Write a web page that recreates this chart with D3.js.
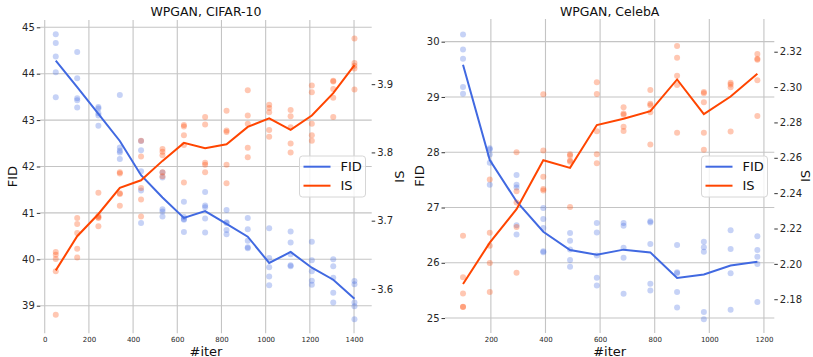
<!DOCTYPE html>
<html>
<head>
<meta charset="utf-8">
<script src="https://cdn.jsdelivr.net/npm/d3@7"></script>
<style>
  body { margin: 0; background: #fff; }
  svg { display: block; font-family: "DejaVu Sans", sans-serif; }
  .tick text { fill: #262626; }
</style>
</head>
<body>
<div id="chart"></div>
<script>
// CIFAR-10 panel: 5 runs per checkpoint
const cifarIter = [50, 147, 243, 340, 436, 533, 630, 726, 823, 919, 1016, 1113, 1209, 1306, 1402];
const cifarFid = [
  [44.85, 44.66, 44.37, 44.03, 43.49],
  [44.47, 43.90, 43.47, 43.43, 43.27],
  [43.28, 43.25, 43.15, 43.10, 42.88],
  [43.54, 42.41, 42.34, 42.30, 42.16],
  [42.55, 42.35, 41.90, 41.48, 40.78],
  [41.87, 41.76, 41.08, 41.03, 40.92],
  [41.24, 40.91, 40.87, 40.85, 40.59],
  [41.45, 41.16, 41.12, 40.88, 40.58],
  [41.06, 40.80, 40.78, 40.63, 40.54],
  [40.89, 40.65, 40.40, 40.26, 40.24],
  [40.67, 40.03, 39.83, 39.63, 39.44],
  [40.60, 40.36, 40.11, 39.87, 39.85],
  [40.38, 39.98, 39.74, 39.54, 39.45],
  [40.00, 39.85, 39.60, 39.28, 39.07],
  [39.53, 39.46, 39.07, 38.99, 38.71]
];
const cifarIs = [
  [3.654, 3.650, 3.644, 3.626, 3.562],
  [3.704, 3.695, 3.682, 3.659, 3.646],
  [3.741, 3.707, 3.705, 3.704, 3.692],
  [3.771, 3.769, 3.740, 3.739, 3.722],
  [3.817, 3.794, 3.748, 3.731, 3.706],
  [3.805, 3.801, 3.796, 3.771, 3.765],
  [3.840, 3.838, 3.825, 3.811, 3.756],
  [3.852, 3.841, 3.785, 3.782, 3.771],
  [3.861, 3.832, 3.830, 3.782, 3.755],
  [3.891, 3.854, 3.842, 3.807, 3.793],
  [3.870, 3.865, 3.859, 3.833, 3.823],
  [3.862, 3.853, 3.837, 3.813, 3.800],
  [3.898, 3.888, 3.842, 3.825, 3.817],
  [3.905, 3.904, 3.893, 3.880, 3.852],
  [3.967, 3.931, 3.927, 3.923, 3.892]
];

// CelebA panel
const celebIter = [98, 196, 294, 392, 490, 588, 686, 784, 882, 980, 1078, 1176];
const celebFid = [
  [30.13, 29.86, 29.69, 29.18, 29.06],
  [28.07, 28.05, 27.96, 27.81, 27.41],
  [27.59, 27.41, 27.36, 26.68, 26.51],
  [26.99, 26.79, 26.63, 26.21, 26.19],
  [26.54, 26.40, 26.24, 26.05, 25.93],
  [26.72, 26.55, 26.13, 25.73, 25.59],
  [26.72, 26.67, 26.27, 26.09, 25.44],
  [26.75, 26.73, 26.34, 25.62, 25.50],
  [26.32, 25.83, 25.81, 25.47, 25.19],
  [26.38, 26.28, 26.20, 25.11, 24.98],
  [26.59, 26.25, 25.81, 25.15],
  [26.48, 26.23, 26.11, 25.98, 25.29]
];
const celebIs = [
  [2.2159, 2.1925, 2.1833, 2.1758, 2.1756],
  [2.2477, 2.2176, 2.2102, 2.2005, 2.1841],
  [2.2632, 2.2411, 2.2347, 2.2208, 2.1950],
  [2.2959, 2.2641, 2.2493, 2.2424, 2.2415],
  [2.2620, 2.2612, 2.2584, 2.2577, 2.2321],
  [2.3027, 2.2961, 2.2750, 2.2620, 2.2569],
  [2.2886, 2.2850, 2.2843, 2.2775, 2.2752],
  [2.2984, 2.2905, 2.2897, 2.2858, 2.2675],
  [2.3232, 2.3166, 2.3064, 2.3012, 2.2741],
  [2.2972, 2.2965, 2.2914, 2.2741, 2.2645],
  [2.3025, 2.3015, 2.2999, 2.2748],
  [2.3187, 2.3160, 2.3155, 2.3038, 2.2837]
];

const cifarXTicks = [0, 200, 400, 600, 800, 1000, 1200, 1400];
const cifarFidTicks = [39, 40, 41, 42, 43, 44, 45];
const cifarIsTicks = [3.6, 3.7, 3.8, 3.9];
const celebXTicks = [200, 400, 600, 800, 1000, 1200];
const celebFidTicks = [25, 26, 27, 28, 29, 30];
const celebIsTicks = [2.18, 2.20, 2.22, 2.24, 2.26, 2.28, 2.30, 2.32];

const FID_COLOR = '#4169e1';
const IS_COLOR = '#ff4500';
const width = 813, height = 357;

const svg = d3.select('#chart').append('svg')
  .attr('width', width)
  .attr('height', height);

function drawPanel(cfg) {
  const x = d3.scaleLinear().domain(cfg.xDomain).range(cfg.xRange);
  const yFid = d3.scaleLinear().domain(cfg.fidDomain).range([cfg.yRange[1], cfg.yRange[0]]);
  const yIs = d3.scaleLinear().domain(cfg.isDomain).range([cfg.yRange[1], cfg.yRange[0]]);
  const [left, right] = cfg.xRange;
  const [top, bottom] = cfg.yRange;
  const g = svg.append('g');

  // grid
  g.append('g').selectAll('line.vx')
    .data(cfg.xTicks)
    .join('line')
      .attr('x1', d => x(d)).attr('x2', d => x(d))
      .attr('y1', top).attr('y2', bottom)
      .attr('stroke', '#c4c4c4').attr('stroke-width', 1.1);
  g.append('g').selectAll('line.hy')
    .data(cfg.fidTicks)
    .join('line')
      .attr('x1', left).attr('x2', right)
      .attr('y1', d => yFid(d)).attr('y2', d => yFid(d))
      .attr('stroke', '#c4c4c4').attr('stroke-width', 1.1);

  // axes, no spines
  const axL = g.append('g')
    .attr('transform', `translate(${left},0)`)
    .call(d3.axisLeft(yFid).tickValues(cfg.fidTicks).tickSize(3.5).tickPadding(2).tickFormat(d3.format('d')));
  const axR = g.append('g')
    .attr('transform', `translate(${right},0)`)
    .call(d3.axisRight(yIs).tickValues(cfg.isTicks).tickSize(3.5).tickPadding(2).tickFormat(d3.format(cfg.isFormat)));
  const axB = g.append('g')
    .attr('transform', `translate(0,${bottom})`)
    .call(d3.axisBottom(x).tickValues(cfg.xTicks).tickSize(0).tickPadding(4).tickFormat(d3.format('d')));
  [axL, axR].forEach(a => {
    a.select('.domain').remove();
    a.selectAll('.tick line').attr('stroke', '#333');
    a.selectAll('.tick text').attr('font-size', 10).attr('font-family', 'DejaVu Sans');
  });
  axB.select('.domain').remove();
  axB.selectAll('.tick text').attr('font-size', 7).attr('font-family', 'DejaVu Sans');

  // FID scatter + mean line
  const fidPts = cfg.iter.flatMap((it, i) => cfg.fid[i].map(v => [it, v]));
  g.append('g').selectAll('circle')
    .data(fidPts)
    .join('circle')
      .attr('cx', d => x(d[0])).attr('cy', d => yFid(d[1]))
      .attr('r', 3).attr('fill', FID_COLOR).attr('fill-opacity', 0.3);
  const fidLine = d3.line().x(d => x(d[0])).y(d => yFid(d[1]));
  g.append('path')
    .datum(cfg.iter.map((it, i) => [it, d3.mean(cfg.fid[i])]))
    .attr('d', fidLine)
    .attr('fill', 'none').attr('stroke', FID_COLOR).attr('stroke-width', 2);

  // IS on twin axis, drawn over FID
  const isPts = cfg.iter.flatMap((it, i) => cfg.is[i].map(v => [it, v]));
  g.append('g').selectAll('circle')
    .data(isPts)
    .join('circle')
      .attr('cx', d => x(d[0])).attr('cy', d => yIs(d[1]))
      .attr('r', 3).attr('fill', IS_COLOR).attr('fill-opacity', 0.3);
  const isLine = d3.line().x(d => x(d[0])).y(d => yIs(d[1]));
  g.append('path')
    .datum(cfg.iter.map((it, i) => [it, d3.mean(cfg.is[i])]))
    .attr('d', isLine)
    .attr('fill', 'none').attr('stroke', IS_COLOR).attr('stroke-width', 2);

  // labels
  g.append('text')
    .attr('x', (left + right) / 2).attr('y', 16)
    .attr('text-anchor', 'middle').attr('font-size', 12.5).attr('fill', '#111')
    .text(cfg.title);
  g.append('text')
    .attr('x', (left + right) / 2).attr('y', 355.5)
    .attr('text-anchor', 'middle').attr('font-size', 13).attr('fill', '#111')
    .text('#iter');
  g.append('text')
    .attr('transform', `translate(${cfg.fidLabelX},${(top + bottom) / 2}) rotate(-90)`)
    .attr('text-anchor', 'middle').attr('dy', '0.35em').attr('font-size', 13).attr('fill', '#111')
    .text('FID');
  g.append('text')
    .attr('transform', `translate(${cfg.isLabelX},${(top + bottom) / 2}) rotate(-90)`)
    .attr('text-anchor', 'middle').attr('dy', '0.35em').attr('font-size', 13).attr('fill', '#111')
    .text('IS');

  // legend
  const lg = g.append('g').attr('transform', `translate(${cfg.legendX},156)`);
  lg.append('rect')
    .attr('width', 66).attr('height', 41).attr('rx', 3)
    .attr('fill', '#fff').attr('fill-opacity', 0.8)
    .attr('stroke', '#d6d6d6');
  [['FID', FID_COLOR], ['IS', IS_COLOR]].forEach(([name, c], i) => {
    const yy = 10.7 + i * 19;
    lg.append('line')
      .attr('x1', 4).attr('x2', 31).attr('y1', yy).attr('y2', yy)
      .attr('stroke', c).attr('stroke-width', 2);
    lg.append('text')
      .attr('x', 41).attr('y', yy).attr('dy', '0.35em')
      .attr('font-size', 13).attr('fill', '#111')
      .text(name);
  });
}

drawPanel({
  title: 'WPGAN, CIFAR-10',
  iter: cifarIter, fid: cifarFid, is: cifarIs,
  xTicks: cifarXTicks, fidTicks: cifarFidTicks, isTicks: cifarIsTicks, isFormat: '.1f',
  xDomain: [-20, 1480], xRange: [40.3, 371.7],
  fidDomain: [38.405, 45.157], isDomain: [3.535, 3.994], yRange: [20, 333.3],
  fidLabelX: 12, isLabelX: 399, legendX: 299.5
});

drawPanel({
  title: 'WPGAN, CelebA',
  iter: celebIter, fid: celebFid, is: celebIs,
  xTicks: celebXTicks, fidTicks: celebFidTicks, isTicks: celebIsTicks, isFormat: '.2f',
  xDomain: [32, 1238], xRange: [445, 774.3],
  fidDomain: [24.73, 30.41], isDomain: [2.1609, 2.3385], yRange: [19, 333],
  fidLabelX: 419, isLabelX: 805.5, legendX: 701.5
});
</script>
</body>
</html>
